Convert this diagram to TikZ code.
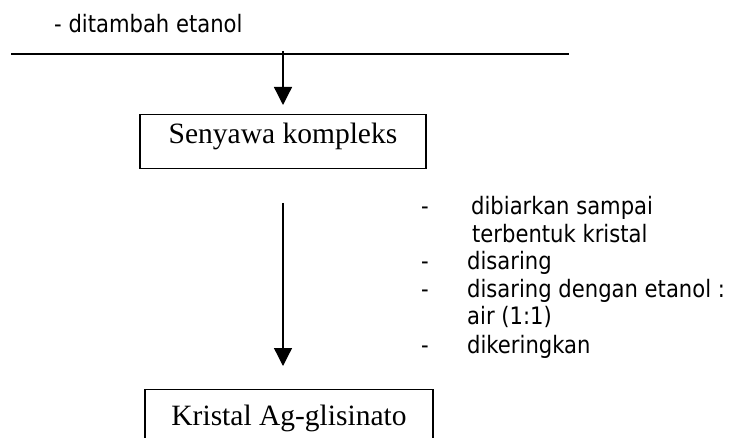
\documentclass[tikz,border=0pt]{standalone}
\usepackage{fontspec}
\setmainfont{Liberation Serif}
\newfontfamily\sansf[FakeStretch=0.88]{DejaVu Sans}
\usetikzlibrary{arrows.meta}
\begin{document}
\begin{tikzpicture}[x=1pt,y=-1pt,
  lineblk/.style={line width=1.3pt, line cap=butt},
  flowarrow/.style={line width=1.3pt, -{Triangle[width=18pt,length=18pt]}},
  boxnode/.style={draw, line width=1.4pt, inner sep=0pt, align=center,
    font=\fontsize{29.5}{35}\selectfont},
  sanstext/.style={inner sep=0pt, anchor=base west, font=\sansf\fontsize{24}{28}\selectfont}]
\useasboundingbox (0,0) rectangle (739,438);
\clip (0,0) rectangle (739,438);
% top text and separator line
\node[sanstext] (t0) at (54,33) {- ditambah etanol};
\coordinate (l1) at (11,54);
\coordinate (l2) at (569,54);
\draw[lineblk] (l1) -- (l2);
% boxes
\node[boxnode, minimum width=286pt, text height=29pt, text depth=25pt, anchor=north] (box1) at (283,114) {Senyawa kompleks};
\node[boxnode, minimum width=288pt, text height=36pt, text depth=34pt, anchor=north] (box2) at (289,389) {Kristal Ag-glisinato};
% arrows
\coordinate (a1s) at (283,51);
\coordinate (a1e) at (283,105);
\draw[flowarrow] (a1s) -- (a1e);
\coordinate (a2s) at (283,203);
\coordinate (a2e) at (283,366);
\draw[flowarrow] (a2s) -- (a2e);
% process list
\node[sanstext] (d1) at (421,215) {-};
\node[sanstext] (s1) at (471,215) {dibiarkan sampai};
\node[sanstext] (s1b) at (472,243) {terbentuk kristal};
\node[sanstext] (d2) at (421,270) {-};
\node[sanstext] (s2) at (467,270) {disaring};
\node[sanstext] (d3) at (421,298) {-};
\node[sanstext] (s3) at (467,298) {disaring dengan etanol :};
\node[sanstext] (s3b) at (467,325) {air (1:1)};
\node[sanstext] (d4) at (421,353) {-};
\node[sanstext] (s4) at (467,353) {dikeringkan};
\end{tikzpicture}
\end{document}
